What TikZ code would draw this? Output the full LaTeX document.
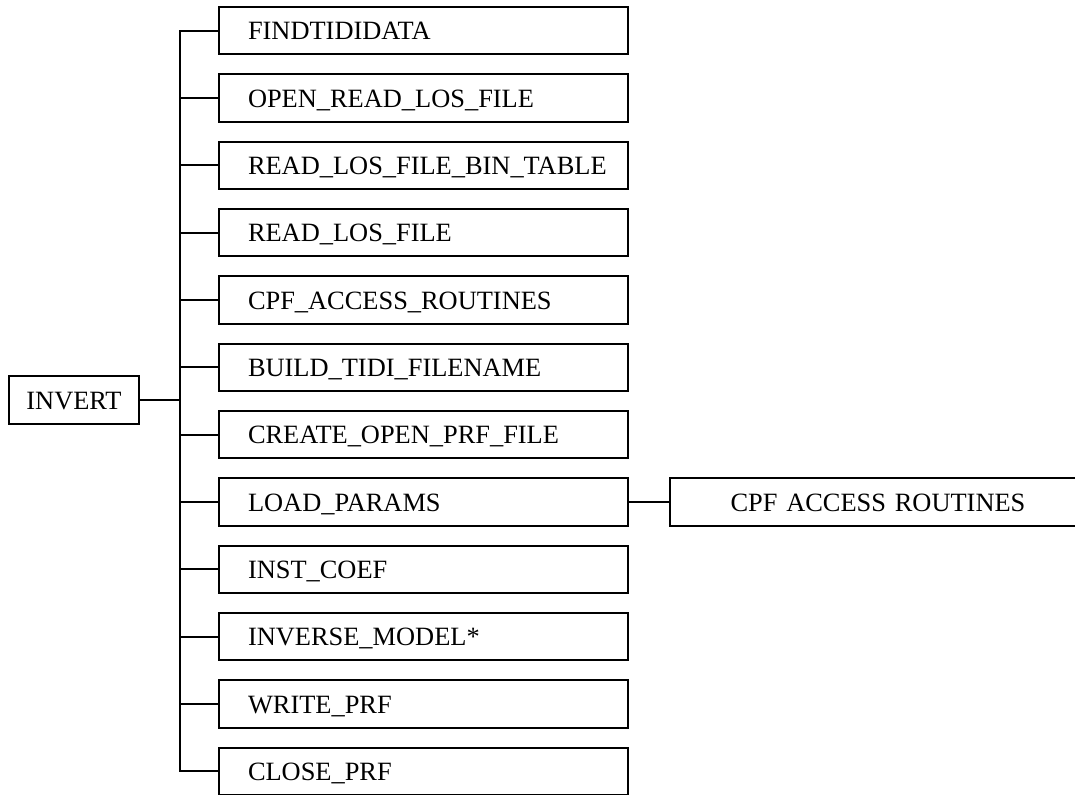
\documentclass[tikz,border=0pt]{standalone}
\usepackage{fontspec}
\setmainfont{Liberation Serif}
\usetikzlibrary{positioning}

\begin{document}
\begin{tikzpicture}[
  x=0.75pt,y=-0.75pt,
  font=\fontsize{19.8pt}{23pt}\selectfont,
  routine/.style={draw,line width=1.5pt,outer sep=0pt,minimum height=35.6pt,
                  text width=306.75pt,inner xsep=0pt,inner ysep=0pt,align=left,
                  text height=13.6pt,text depth=0pt,
                  execute at begin node={\hspace*{21.75pt}}},
  caller/.style={draw,line width=1.5pt,outer sep=0pt,minimum width=97.5pt,
                 minimum height=36pt,text height=13.6pt,text depth=0pt},
  callee/.style={draw,line width=1.5pt,outer sep=0pt,minimum height=35.6pt,
                 text width=312pt,inner xsep=0pt,inner ysep=0pt,align=center,
                 text height=13.6pt,text depth=0pt},
  link/.style={line width=1.5pt},
  node distance=14.9pt
]
\useasboundingbox (0,0) rectangle (1075,794);

\node[caller] (inv) at (74,400) {INVERT};
\coordinate (trunk) at (180,0);

\node[routine,anchor=north west] (b1) at (219,7) {FINDTIDIDATA};
\node[routine,below=of b1]  (b2)  {OPEN\_READ\_LOS\_FILE};
\node[routine,below=of b2]  (b3)  {READ\_LOS\_FILE\_BIN\_TABLE};
\node[routine,below=of b3]  (b4)  {READ\_LOS\_FILE};
\node[routine,below=of b4]  (b5)  {CPF\_ACCESS\_ROUTINES};
\node[routine,below=of b5]  (b6)  {BUILD\_TIDI\_FILENAME};
\node[routine,below=of b6]  (b7)  {CREATE\_OPEN\_PRF\_FILE};
\node[routine,below=of b7]  (b8)  {LOAD\_PARAMS};
\node[routine,below=of b8]  (b9)  {INST\_COEF};
\node[routine,below=of b9]  (b10) {INVERSE\_MODEL*};
\node[routine,below=of b10] (b11) {WRITE\_PRF};
\node[routine,below=of b11] (b12) {CLOSE\_PRF};

\node[callee,right=31.5pt of b8] (cpf) {CPF ACCESS ROUTINES};

% calls from INVERT
\draw[link] (inv) -- (inv -| trunk);
\draw[link] (b1.west) -- (b1.west -| trunk) -- (b12.west -| trunk) -- (b12.west);
\draw[link] (b2.west) -- (b2.west -| trunk);
\draw[link] (b3.west) -- (b3.west -| trunk);
\draw[link] (b4.west) -- (b4.west -| trunk);
\draw[link] (b5.west) -- (b5.west -| trunk);
\draw[link] (b6.west) -- (b6.west -| trunk);
\draw[link] (b7.west) -- (b7.west -| trunk);
\draw[link] (b8.west) -- (b8.west -| trunk);
\draw[link] (b9.west) -- (b9.west -| trunk);
\draw[link] (b10.west) -- (b10.west -| trunk);
\draw[link] (b11.west) -- (b11.west -| trunk);

% calls from LOAD_PARAMS
\draw[link] (b8) -- (cpf);
\end{tikzpicture}
\end{document}
